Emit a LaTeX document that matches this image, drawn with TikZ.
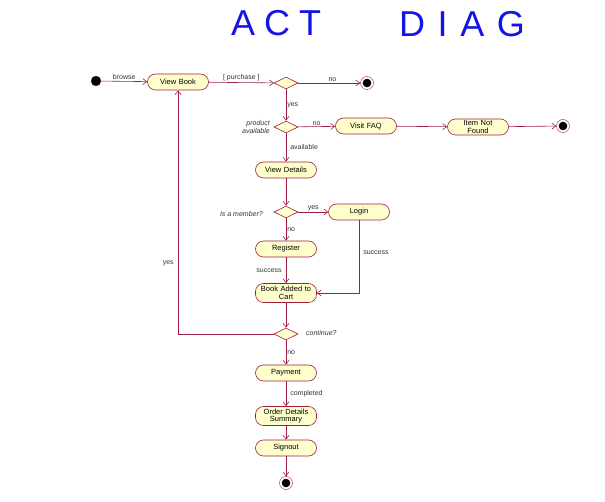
\documentclass[tikz,border=0pt]{standalone}
\usepackage{fontspec}
\setmainfont{Liberation Sans}
\usepackage{tikz}
\usetikzlibrary{shapes.geometric, arrows.meta, positioning, calc}
\definecolor{umlred}{RGB}{160,30,70}
\definecolor{umlfill}{RGB}{255,255,204}
\definecolor{penblue}{RGB}{20,20,230}
\tikzset{
  activity/.style={rectangle, draw=umlred, fill=umlfill,
    text width=1.9cm, align=center, minimum width=61pt, minimum height=16pt,
    inner sep=1pt, font=\fontsize{7.5}{8.5}\selectfont, rounded corners=8pt, line width=0.6pt},
  decision/.style={diamond, draw=umlred, fill=umlfill, aspect=2,
    minimum width=24pt, minimum height=12pt, inner sep=0pt, line width=0.6pt},
  initial/.style={circle, fill=black, draw=umlred, minimum size=10pt, inner sep=0pt},
  final/.style={circle, draw=umlred, fill=white, minimum size=13pt, inner sep=0pt,
    path picture={\fill[black] (path picture bounding box.center) circle (4.3pt);}},
  arrow/.style={-{Straight Barb[length=4pt,width=6pt]}, color=umlred, line width=0.6pt},
  line/.style={color=umlred, line width=0.6pt},
  guard/.style={font=\fontsize{7}{8}\selectfont, text=black!80, inner sep=1pt},
  question/.style={guard, font=\fontsize{7}{8}\selectfont\itshape, align=right},
  title/.style={text=penblue, font=\fontsize{36}{36}\selectfont\addfontfeature{LetterSpace=#1}}
}
\begin{document}
\begin{tikzpicture}[x=1pt, y=-1pt]
    \useasboundingbox (0,0) rectangle (605,502);
    % Title
    \node[title=25] (ttlA) at (276,23) {ACT};
    \node[title=35] (ttlB) at (462,24) {DIAG};
    % Nodes
    \node[initial] (start) at (96,81) {};
    \node[activity] (viewbook) at (178,82) {View Book};
    \node[decision] (dpurchase) at (286,83) {};
    \node[final] (end1) at (367,83) {};
    \node[decision] (davail) at (286,127) {};
    \node[activity] (faq) at (366,126) {Visit FAQ};
    \node[activity] (notfound) at (478,127) {Item Not\\[-1pt]Found};
    \node[final] (end2) at (563,126) {};
    \node[activity] (details) at (286,170) {View Details};
    \node[decision] (dmember) at (286,212) {};
    \node[activity] (login) at (359,212) {Login};
    \node[activity] (register) at (286,249) {Register};
    \node[activity, minimum height=19pt] (cart) at (286,293) {Book Added to\\[-1pt]Cart};
    \node[decision] (dcont) at (286,334) {};
    \node[activity] (payment) at (286,373) {Payment};
    \node[activity, minimum height=19pt] (order) at (286,416) {Order Details\\[-1pt]Summary};
    \node[activity] (signout) at (286,448) {Signout};
    \node[final] (end3) at (286,483) {};
    % Decision texts
    \node[question, anchor=east] (qavail) at (271,127) {product\\available};
    \node[question, anchor=east] (qmember) at (264,214) {Is a member?};
    \node[question, anchor=west] (qcont) at (305,333) {continue?};
    % Flows
    \draw[arrow] (start) -- node[guard, above] {browse} (viewbook);
    \draw[arrow] (viewbook) -- node[guard, above] {[ purchase ]} (dpurchase);
    \draw[arrow] (dpurchase) -- node[guard, above, pos=0.55] {no} (end1);
    \draw[arrow] (dpurchase) -- node[guard, right] {yes} (davail);
    \draw[arrow] (davail) -- node[guard, above] {no} (faq);
    \draw[arrow] (faq) -- (notfound);
    \draw[arrow] (notfound) -- (end2);
    \draw[arrow] (davail) -- node[guard, right, xshift=3pt] {available} (details);
    \draw[arrow] (details) -- (dmember);
    \draw[arrow] (dmember) -- node[guard, above] {yes} (login);
    \draw[arrow] (dmember) -- node[guard, right] {no} (register);
    \draw[arrow] (register) -- node[guard, left, xshift=-3pt] {success} (cart);
    \draw[arrow] (login) |- node[guard, right, pos=0.22, xshift=3pt] {success} (cart);
    \draw[arrow] (cart) -- (dcont);
    \draw[arrow] (dcont) -| node[guard, left, pos=0.645, xshift=-3pt] {yes} (viewbook);
    \draw[arrow] (dcont) -- node[guard, right] {no} (payment);
    \draw[arrow] (payment) -- node[guard, right, xshift=3pt] {completed} (order);
    \draw[arrow] (order) -- (signout);
    \draw[arrow] (signout) -- (end3);
\end{tikzpicture}
\end{document}
